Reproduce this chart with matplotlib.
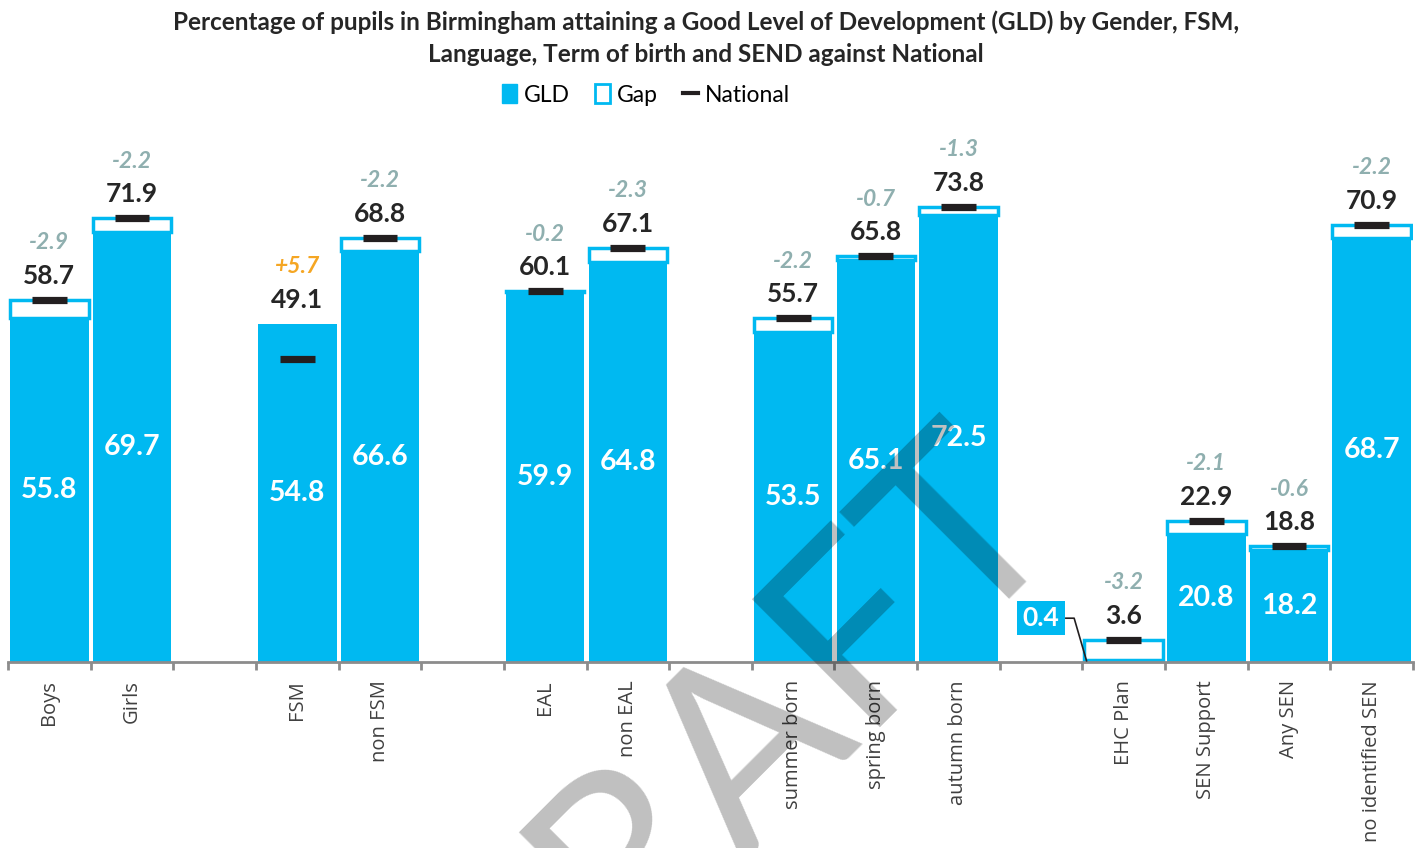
import numpy as np
import matplotlib
matplotlib.use("Agg")
import matplotlib.pyplot as plt
from matplotlib.patches import Patch
from matplotlib.lines import Line2D

# data (blank strings are the spacer slots between groups)
categories = ["Boys", "Girls", "", "FSM", "non FSM", "", "EAL", "non EAL", "",
              "summer born", "spring born", "autumn born", "",
              "EHC Plan", "SEN Support", "Any SEN", "no identified SEN"]
gld = np.array([55.8, 69.7, np.nan, 54.8, 66.6, np.nan, 59.9, 64.8, np.nan,
                53.5, 65.1, 72.5, np.nan, 0.4, 20.8, 18.2, 68.7])
national = np.array([58.7, 71.9, np.nan, 49.1, 68.8, np.nan, 60.1, 67.1, np.nan,
                     55.7, 65.8, 73.8, np.nan, 3.6, 22.9, 18.8, 70.9])

title = ("Percentage of pupils in Birmingham attaining a Good Level of Development (GLD) by Gender, FSM,\n"
         "Language, Term of birth and SEND against National")

cyan = "#00B9F1"
dark = "#231F20"
gapgrey = "#8FAFAF"
orange = "#F5A623"

W, H = 1420, 848
fig = plt.figure(figsize=(W / 100, H / 100), dpi=100)
ax = fig.add_axes([8 / W, 1 - 662 / H, (1413 - 8) / W, 493.6 / H])

x = np.arange(len(categories))
has = ~np.isnan(gld)
diff = gld - national
below = has & (diff < 0)

ax.bar(x[has], gld[has], width=0.95, color=cyan, zorder=2)
ax.bar(x[below], -diff[below], bottom=gld[below], width=0.95,
       facecolor="white", edgecolor=cyan, linewidth=2.5, zorder=2)
nat = ax.hlines(national[has], x[has] - 0.21, x[has] + 0.21, colors=dark,
                linewidth=5.2, zorder=4)
nat.set_capstyle("butt")

px = 6.17  # pixels per unit on y
for i in x[has]:
    top = max(gld[i], national[i])
    ax.text(i, top + 24 / px, f"{national[i]:.1f}", ha="center", va="center",
            fontsize=19, fontweight="bold", color="#262626", family="Lato")
    col = orange if diff[i] > 0 else gapgrey
    ax.text(i, top + 57 / px, f"{diff[i]:+.1f}", ha="center", va="center",
            fontsize=16.5, fontweight="bold", style="italic", color=col, family="Lato")
    if gld[i] > 5:
        ax.text(i, gld[i] / 2, f"{gld[i]:.1f}", ha="center", va="center",
                fontsize=20.5, fontweight="bold", color="white", family="Lato")
    else:
        # small value: callout box to the left of the bar
        bx, by = i - 1.0, 7.1
        ax.plot([bx + 0.3, i - 0.6, i - 0.45], [by, by, gld[i] / 2],
                color=dark, lw=1.2, zorder=3, clip_on=False)
        ax.text(bx, by, f"{gld[i]:.1f}", ha="center", va="center",
                fontsize=19, fontweight="bold", color="white", family="Lato",
                bbox=dict(boxstyle="square,pad=0.2", fc=cyan, ec="none"))

ax.set_xlim(-0.5, len(categories) - 0.5)
ax.set_ylim(0, 80)
ax.set_yticks([])
ax.set_xticks(x)
ax.set_xticklabels(categories, rotation=90, va="top", ha="center",
                   fontsize=14.5, color="#404040", family="Open Sans")
ax.set_xticks(np.arange(len(categories) + 1) - 0.5, minor=True)
ax.tick_params(axis="x", which="major", length=0, pad=13)
ax.tick_params(axis="x", which="minor", length=6, width=2, color="#8C8C8C")
for s in ["top", "left", "right"]:
    ax.spines[s].set_visible(False)
ax.spines["bottom"].set_color("#8C8C8C")
ax.spines["bottom"].set_linewidth(2)

fig.text(0.497, 1 - 38 / H, title, ha="center", va="center", fontsize=17.5,
         fontweight="bold", color="#262626", family="Lato", linespacing=1.5)

handles = [Patch(facecolor=cyan, edgecolor=cyan),
           Patch(facecolor="white", edgecolor=cyan, linewidth=2),
           Line2D([], [], color=dark, lw=3)]
fig.legend(handles, ["GLD", "Gap", "National"], loc="center",
           bbox_to_anchor=(646 / W, 1 - 95 / H), ncol=3, frameon=False,
           handlelength=0.65, handleheight=0.85, handletextpad=0.3,
           columnspacing=1.1, prop={"family": "Lato", "size": 16.5})

# DRAFT watermark
fig.text(727 / W, 1 - 757 / H, "DRAFT", ha="center", va="center", rotation=45,
         rotation_mode="anchor", fontsize=182, color="black", alpha=0.25,
         family="Lato", zorder=10)

fig.savefig("out.png", dpi=100)
